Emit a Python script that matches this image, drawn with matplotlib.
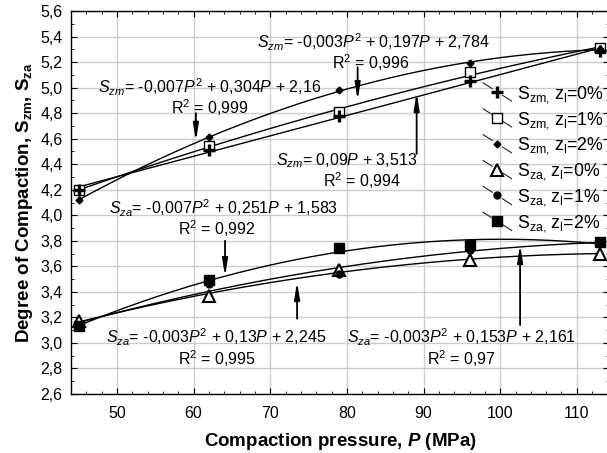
import numpy as np
import matplotlib
matplotlib.use('Agg')
from matplotlib import pyplot as plt
from matplotlib.lines import Line2D
from matplotlib.legend_handler import HandlerLine2D
from matplotlib.ticker import MultipleLocator, FuncFormatter

plt.rcParams['font.family'] = ['Liberation Sans', 'DejaVu Sans']
plt.rcParams['mathtext.fontset'] = 'custom'
plt.rcParams['mathtext.rm'] = 'Liberation Sans'
plt.rcParams['mathtext.it'] = 'Liberation Sans:italic'
plt.rcParams['mathtext.bf'] = 'Liberation Sans:bold'
try:
    plt.rcParams['mathtext.bfit'] = 'Liberation Sans:bold:italic'
    XLABEL = r'Compaction pressure, $\mathbfit{P}$ (MPa)'
except KeyError:
    XLABEL = r'Compaction pressure, $\mathbf{P}$ (MPa)'

# compaction pressure, MPa
pressure = [45, 62, 79, 96, 113]

# degree of compaction
szm_0 = [4.20, 4.51, 4.78, 5.05, 5.29]
szm_1 = [4.20, 4.54, 4.81, 5.12, 5.31]
szm_2 = [4.12, 4.61, 4.98, 5.19, 5.30]
sza_0 = [3.17, 3.37, 3.57, 3.65, 3.70]
sza_1 = [3.14, 3.46, 3.54, 3.73, 3.79]
sza_2 = [3.13, 3.49, 3.74, 3.77, 3.79]

labels = [r'S$_{\rm zm,}\,$z$_{\rm l}$=0%', r'S$_{\rm zm,}\,$z$_{\rm l}$=1%',
          r'S$_{\rm zm,}\,$z$_{\rm l}$=2%', r'S$_{\rm za,}\,$z$_{\rm l}$=0%',
          r'S$_{\rm za,}\,$z$_{\rm l}$=1%', r'S$_{\rm za,}\,$z$_{\rm l}$=2%']

# trend line label text, its position, and the arrow (tail -> tip)
fit_texts = [
    (r'$S_{zm}$= -0,003$P^2$ + 0,197$P$ + 2,784', (83.4, 5.355), 'R$^2$ = 0,996', (83.2, 5.195), (81.4, 5.16), (81.4, 4.90)),
    (r'$S_{zm}$= -0,007$P^2$ + 0,304$P$ + 2,16', (62.1, 5.005), 'R$^2$ = 0,999', (62.1, 4.845), (60.3, 4.80), (60.3, 4.58)),
    (r'$S_{zm}$= 0,09$P$ + 3,513', (79.9, 4.425), 'R$^2$ = 0,994', (82.0, 4.275), (89.1, 4.48), (89.1, 4.96)),
    (r'$S_{za}$= -0,007$P^2$ + 0,251$P$ + 1,583', (63.9, 4.055), 'R$^2$ = 0,992', (63.0, 3.895), (64.1, 3.80), (64.1, 3.52)),
    (r'$S_{za}$= -0,003$P^2$ + 0,13$P$ + 2,245', (63.0, 3.045), 'R$^2$ = 0,995', (63.1, 2.875), (73.5, 3.19), (73.5, 3.48)),
    (r'$S_{za}$= -0,003$P^2$ + 0,153$P$ + 2,161', (94.9, 3.045), 'R$^2$ = 0,97', (94.9, 2.875), (102.6, 3.14), (102.6, 3.77)),
]


class DiagHandler(HandlerLine2D):
    def create_artists(self, legend, orig_handle, xdescent, ydescent, width, height, fontsize, trans):
        x0 = -xdescent
        x1 = x0 + width
        yc = -ydescent + height / 2
        dy = width * 0.32
        xm = (x0 + x1) / 2
        g = width * 0.18
        s = dy / (width / 2)
        seg1 = Line2D([x0, xm - g], [yc + dy, yc + g * s], color='0.15', lw=0.8)
        seg2 = Line2D([xm + g, x1], [yc - g * s, yc - dy], color='0.15', lw=0.8)
        mk = Line2D([xm], [yc], marker=orig_handle.get_marker(), ms=orig_handle.get_markersize(),
                    mfc=orig_handle.get_markerfacecolor(), mec=orig_handle.get_markeredgecolor(),
                    mew=orig_handle.get_markeredgewidth(), linestyle='none')
        for a in (seg1, seg2, mk):
            a.set_transform(trans)
        return [seg1, seg2, mk]


def main():
    fig = plt.figure(figsize=(6.07, 4.53), dpi=100)
    ax = fig.add_axes([71 / 607, 59 / 453, 538 / 607, 383 / 453])

    p = np.array(pressure)
    pp = np.linspace(45, 113, 200)
    series = [szm_0, szm_1, szm_2, sza_0, sza_1, sza_2]
    degrees = [1, 2, 2, 2, 2, 2]
    styles = [
        dict(marker='+', ms=8, mew=2.4, mfc='k', mec='k'),
        dict(marker='s', ms=6.5, mew=1.0, mfc='white', mec='k'),
        dict(marker='D', ms=3.5, mew=1.0, mfc='k', mec='k'),
        dict(marker='^', ms=8, mew=1.5, mfc='white', mec='k'),
        dict(marker='o', ms=5, mew=1.0, mfc='k', mec='k'),
        dict(marker='s', ms=7.5, mew=1.0, mfc='k', mec='k'),
    ]
    zorders = [4.5, 3.1, 3.2, 3.3, 3.4, 3.5]

    for vals, deg in zip(series, degrees):
        coef = np.polyfit(p, vals, deg)
        ax.plot(pp, np.polyval(coef, pp), color='k', lw=1.0, zorder=2)

    handles = []
    for vals, st, lab, z in zip(series, styles, labels, zorders):
        h, = ax.plot(p, vals, linestyle='none', label=lab, zorder=z, **st)
        handles.append(h)

    for t1, pos1, t2, pos2, tail, tip in fit_texts:
        ax.text(pos1[0], pos1[1], t1, ha='center', va='center', fontsize=11.5)
        ax.text(pos2[0], pos2[1], t2, ha='center', va='center', fontsize=11.5)
        ax.annotate('', xy=tip, xytext=tail,
                    arrowprops=dict(arrowstyle='-|>,head_length=1.0,head_width=0.16',
                                    color='k', lw=1.3, shrinkA=0, shrinkB=0))

    ax.set_xlim(44, 114.2)
    ax.set_ylim(2.6, 5.6)
    ax.xaxis.set_major_locator(MultipleLocator(10))
    ax.xaxis.set_minor_locator(MultipleLocator(2))
    ax.yaxis.set_major_locator(MultipleLocator(0.2))
    ax.yaxis.set_minor_locator(MultipleLocator(0.1))
    ax.yaxis.set_major_formatter(FuncFormatter(lambda v, pos: f'{v:.1f}'.replace('.', ',')))
    ax.xaxis.set_major_formatter(FuncFormatter(lambda v, pos: f'{v:.0f}'))
    ax.tick_params(which='both', direction='in', top=True, right=True, labelsize=11.5, colors='k')
    ax.tick_params(axis='y', which='major', length=4, pad=6)
    ax.tick_params(axis='x', which='major', length=4, pad=9)
    ax.tick_params(which='minor', length=2)
    ax.grid(True, which='major', color='#cccccc', lw=1.0, zorder=0)
    ax.set_axisbelow(True)
    for sp in ax.spines.values():
        sp.set_linewidth(1.0)

    ax.set_xlabel(XLABEL, fontsize=13.5, fontweight='bold', labelpad=7)
    ax.set_ylabel(r'Degree of Compaction, S$_{\mathbf{zm}}$, S$_{\mathbf{za}}$',
                  fontsize=13.5, fontweight='bold', labelpad=4)

    ax.legend(handles=handles, handler_map={Line2D: DiagHandler()}, loc='upper left',
              bbox_to_anchor=(0.766, 0.81), frameon=False, fontsize=12.8, handlelength=1.6,
              handletextpad=0.3, labelspacing=0.28, borderpad=0, borderaxespad=0)

    fig.savefig('out.png', dpi=100)


if __name__ == '__main__':
    main()
